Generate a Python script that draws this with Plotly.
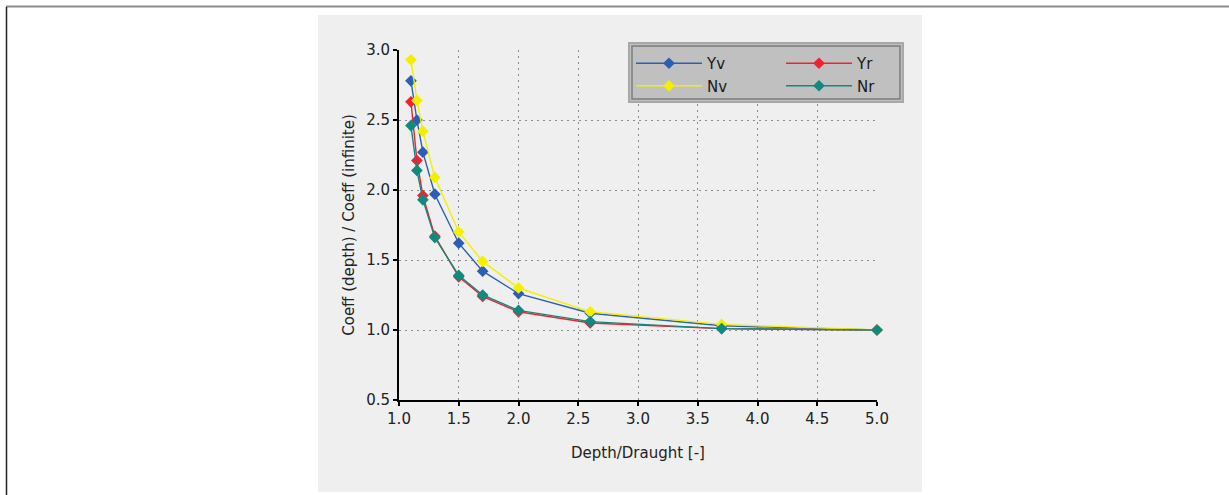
import plotly.graph_objects as go

depth_ratio = [1.1, 1.15, 1.2, 1.3, 1.5, 1.7, 2.0, 2.6, 3.7, 5.0]
yv = [2.78, 2.50, 2.27, 1.97, 1.62, 1.42, 1.26, 1.12, 1.03, 1.00]
nv = [2.93, 2.64, 2.42, 2.09, 1.70, 1.49, 1.30, 1.13, 1.04, 1.00]
yr = [2.63, 2.21, 1.96, 1.67, 1.38, 1.24, 1.13, 1.05, 1.01, 1.00]
nr = [2.46, 2.14, 1.93, 1.66, 1.39, 1.25, 1.14, 1.06, 1.01, 1.00]

series_names = ["Yv", "Yr", "Nv", "Nr"]
series_values = [yv, yr, nv, nr]
series_colors = ["#2b5fb4", "#ee2230", "#f2f000", "#12897d"]
series_legend = ["legend", "legend2", "legend", "legend2"]

x_ticks = [1.0, 1.5, 2.0, 2.5, 3.0, 3.5, 4.0, 4.5, 5.0]
y_ticks = [0.5, 1.0, 1.5, 2.0, 2.5, 3.0]

W, H = 1229, 495
L, R, T, B = 399, 877, 50, 400


def px(xp):
    return (xp - L) / (R - L)


def py(yp):
    return (B - yp) / (B - T)


FONT = "DejaVu Sans"
TXT = "#222222"

fig = go.Figure()
for name, vals, col, lg in zip(series_names, series_values, series_colors, series_legend):
    fig.add_trace(go.Scatter(
        x=depth_ratio, y=vals, name=name, mode="lines+markers",
        line=dict(color=col, width=1.4),
        marker=dict(symbol="diamond", size=9, color=col),
        legend=lg, cliponaxis=False,
    ))

shapes = [
    # grey panel
    dict(type="rect", xref="paper", yref="paper", layer="below",
         x0=px(318), x1=px(922), y0=py(492), y1=py(15),
         fillcolor="#efefef", line=dict(width=0)),
    # page frame
    dict(type="line", xref="paper", yref="paper", layer="above",
         x0=px(6), x1=px(1229), y0=py(6.5), y1=py(6.5),
         line=dict(color="#8a8a8a", width=2)),
    dict(type="line", xref="paper", yref="paper", layer="above",
         x0=px(6.5), x1=px(6.5), y0=py(7), y1=py(495),
         line=dict(color="#222222", width=1.5)),
    # legend box
    dict(type="rect", xref="paper", yref="paper", layer="above",
         x0=px(629), x1=px(903), y0=py(102), y1=py(43),
         fillcolor="#c0c0c0", line=dict(color="#a8a8a8", width=2)),
    dict(type="rect", xref="paper", yref="paper", layer="above",
         x0=px(632), x1=px(900), y0=py(99), y1=py(46),
         fillcolor="rgba(0,0,0,0)", line=dict(color="#7c7c7c", width=1.5)),
]

axis_common = dict(
    showline=True, linecolor="#000000", linewidth=2,
    ticks="outside", ticklen=4, tickwidth=1.5, tickcolor="#000000",
    showgrid=True, gridcolor="#8c8c8c", gridwidth=1.2, griddash="1.5px,4.5px",
    zeroline=False, tickfont=dict(family=FONT, size=15, color=TXT),
    automargin=False, mirror=False,
)

legend_common = dict(
    xanchor="left", yanchor="top", bgcolor="rgba(0,0,0,0)", borderwidth=0,
    itemwidth=66, font=dict(family=FONT, size=15, color="#1a1a1a"),
    tracegroupgap=0,
)

fig.update_layout(
    width=W, height=H,
    margin=dict(l=L, r=W - R, t=T, b=H - B),
    paper_bgcolor="#ffffff", plot_bgcolor="rgba(0,0,0,0)",
    shapes=shapes,
    xaxis=dict(range=[1.0, 5.0], tickvals=x_ticks,
               ticktext=[f"{v:.1f}" for v in x_ticks],
               title=dict(text="Depth/Draught [-]", standoff=20,
                          font=dict(family=FONT, size=15, color=TXT)),
               **axis_common),
    yaxis=dict(range=[0.5, 3.0], tickvals=y_ticks,
               ticktext=[f"{v:.1f}" for v in y_ticks],
               title=dict(text="Coeff (depth) / Coeff (infinite)", standoff=8,
                          font=dict(family=FONT, size=15, color=TXT)),
               **axis_common),
    legend=dict(x=px(631), y=py(47), **legend_common),
    legend2=dict(x=px(781), y=py(47), **legend_common),
    showlegend=True,
)

fig.write_html("out.html", config={"displayModeBar": False},
               post_script="document.body.style.margin='0';")
